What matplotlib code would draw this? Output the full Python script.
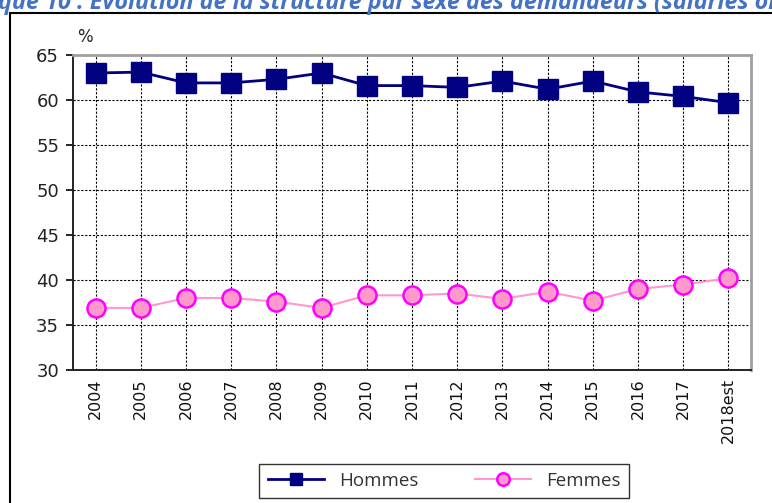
import matplotlib
matplotlib.use("Agg")
import matplotlib.pyplot as plt
from matplotlib.patches import Rectangle

years = ["2004", "2005", "2006", "2007", "2008", "2009", "2010", "2011",
         "2012", "2013", "2014", "2015", "2016", "2017", "2018est"]
hommes = [63.0, 63.1, 61.9, 61.9, 62.3, 63.0, 61.6, 61.6, 61.4, 62.1,
          61.2, 62.1, 60.9, 60.4, 59.7]
femmes = [36.9, 36.9, 38.0, 38.0, 37.6, 36.9, 38.3, 38.3, 38.5, 37.9,
          38.7, 37.7, 39.0, 39.5, 40.2]
yticks = [30, 35, 40, 45, 50, 55, 60, 65]

fig = plt.figure(figsize=(7.72, 5.03), dpi=100)

# outer frame
fig.patches.append(Rectangle((10/772, -0.1), 1.1, 1 - 13/503 + 0.1,
                             transform=fig.transFigure, fill=False,
                             edgecolor="black", linewidth=1.5))
# title, cut at the top edge as in the source
fig.text(0.505, 1 - 9/503, "que 10 : Evolution de la structure par sexe des demandeurs (salariés on",
         ha="center", va="baseline", fontsize=16.8, fontweight="bold",
         fontstyle="italic", color="#4472C4", family="Open Sans")

ax = fig.add_axes([73/772, 1 - 370/503, (751 - 73)/772, (370 - 55)/503])
x = list(range(len(years)))
ax.plot(x, hommes, color="#000080", linewidth=2, marker="s", markersize=14,
        markerfacecolor="#000080", markeredgecolor="#000080", label="Hommes",
        zorder=3)
ax.plot(x, femmes, color="#FF99CC", linewidth=1.5, marker="o", markersize=13,
        markerfacecolor="#FF99CC", markeredgecolor="#FF00FF",
        markeredgewidth=1.8, label="Femmes", zorder=3)

ax.set_xlim(-0.5, len(years) - 0.5)
ax.set_ylim(30, 65)
ax.set_yticks(yticks)
ax.set_yticklabels([str(v) for v in yticks], fontsize=13, color="#222222")
ax.set_xticks(x)
ax.set_xticklabels(years, rotation=90, fontsize=11.5, color="#111111")
ax.tick_params(axis="x", length=0, pad=6)
ax.tick_params(axis="y", length=5, width=1.2, direction="out", pad=5)
ax.grid(True, color="black", linestyle=(0, (2, 1.5)), linewidth=0.8)
ax.set_axisbelow(True)
for s in ["left", "bottom"]:
    ax.spines[s].set_color("#222222")
    ax.spines[s].set_linewidth(1.4)
for s in ["top", "right"]:
    ax.spines[s].set_color("#a0a0a0")
    ax.spines[s].set_linewidth(2)

fig.text(85/772, 1 - 37/503, "%", fontsize=12, color="#222222", ha="center", va="center")

# legend
leg = fig.legend(loc="center", bbox_to_anchor=(444/772, 1 - 481/503), ncol=2,
                 frameon=True, fancybox=False, handlelength=3.0,
                 columnspacing=3.0, borderpad=0.45, borderaxespad=0,
                 prop={"family": "Open Sans", "size": 13.5})
leg.get_frame().set_edgecolor("black")
leg.get_frame().set_linewidth(1.0)
for h in leg.legend_handles:
    h.set_markersize(9)
for t in leg.get_texts():
    t.set_color("#333333")

fig.savefig("out.png", dpi=100)
